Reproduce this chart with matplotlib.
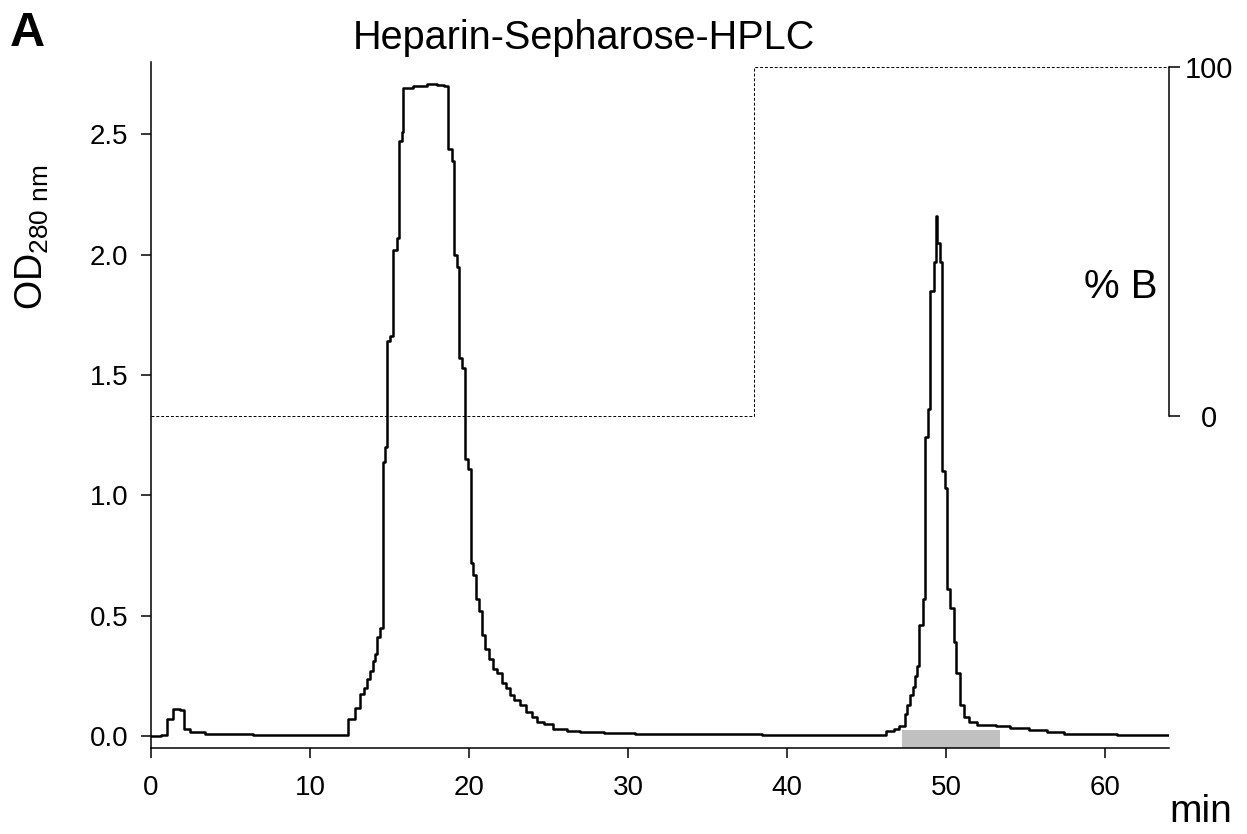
import matplotlib
matplotlib.use("Agg")
import matplotlib.pyplot as plt

plt.rcParams['font.family'] = ['Liberation Sans', 'DejaVu Sans']
plt.rcParams['mathtext.default'] = 'regular'

# chromatogram, step values (OD 280 nm held from each time point on)
time_min = [0.0, 0.6, 1.03, 1.36, 1.8, 2.10, 2.44, 3.4, 6.4, 9.0,
            12.41, 12.83, 13.14, 13.40, 13.56, 13.77, 13.94, 14.10, 14.23, 14.40,
            14.57, 14.72, 14.86, 15.03, 15.24, 15.45, 15.60, 15.77, 15.87,
            16.5, 17.34, 18.0, 18.4,
            18.70, 18.91, 19.06, 19.23, 19.39, 19.56, 19.75, 19.96, 20.10, 20.27,
            20.44, 20.65, 20.80, 21.01, 21.22, 21.49, 21.78, 22.06, 22.33, 22.58,
            22.83, 23.21, 23.58, 23.94, 24.26, 24.68, 25.30, 26.14, 26.98, 28.5,
            30.4, 34.6, 38.4, 45.5, 46.2, 46.7, 47.0,
            47.40, 47.55, 47.72, 47.89, 48.04, 48.18, 48.31, 48.52, 48.67, 48.82,
            48.99, 49.20, 49.33, 49.41, 49.58, 49.73, 49.90, 50.05, 50.26, 50.47,
            50.64, 50.85, 51.10, 51.42, 51.95, 53.1, 54.0, 55.2, 56.3, 57.4,
            60.7, 64.0]
od_280 = [0.000, 0.003, 0.072, 0.110, 0.108, 0.027, 0.015, 0.007, 0.005, 0.004,
          0.07, 0.115, 0.176, 0.20, 0.235, 0.27, 0.31, 0.34, 0.41, 0.45,
          1.14, 1.20, 1.64, 1.66, 2.02, 2.07, 2.47, 2.51, 2.69,
          2.70, 2.71, 2.705, 2.70,
          2.44, 2.39, 2.00, 1.95, 1.57, 1.53, 1.15, 1.11, 0.72, 0.67,
          0.57, 0.52, 0.42, 0.36, 0.32, 0.28, 0.26, 0.22, 0.20, 0.17,
          0.15, 0.13, 0.10, 0.08, 0.06, 0.05, 0.03, 0.02, 0.015, 0.012,
          0.010, 0.008, 0.002, 0.003, 0.02, 0.03, 0.04,
          0.09, 0.127, 0.17, 0.205, 0.25, 0.29, 0.46, 0.57, 1.24, 1.36,
          1.85, 1.97, 2.16, 2.05, 1.97, 1.10, 1.03, 0.61, 0.53, 0.39,
          0.26, 0.127, 0.08, 0.06, 0.045, 0.04, 0.035, 0.025, 0.015, 0.008,
          0.003, 0.003]

# gradient (% buffer B)
grad_time = [0.0, 37.9, 64.0]
grad_b = [0, 100, 100]

# pooled fractions
pool_start, pool_end = 47.2, 53.4
pool_top = 0.025

fig = plt.figure(figsize=(12.47, 8.34), dpi=100)
ax = fig.add_axes([151/1247, 86/834, 1018/1247, 686/834])

ax.fill_between([pool_start, pool_end], -0.05, pool_top, color='#c0c0c0', lw=0, zorder=1)
ax.plot(time_min, od_280, drawstyle='steps-post', color='black', lw=1.8, zorder=3)

ax.set_xlim(0, 64)
ax.set_ylim(-0.05, 2.80)
ax.set_xticks([0, 10, 20, 30, 40, 50, 60])
ax.set_yticks([0.0, 0.5, 1.0, 1.5, 2.0, 2.5])
ax.set_yticklabels(['0.0', '0.5', '1.0', '1.5', '2.0', '2.5'])
ax.spines['top'].set_visible(False)
ax.spines['right'].set_visible(False)
for s in ['left', 'bottom']:
    ax.spines[s].set_linewidth(1.1)
ax.tick_params(axis='both', direction='out', length=7.2, width=1.1, labelsize=20)
ax.tick_params(axis='x', pad=12)
ax.tick_params(axis='y', pad=9)

ax2 = ax.twinx()
ax2.plot(grad_time, grad_b, drawstyle='steps-post', color='black', lw=0.7,
         linestyle=(0, (3, 2)), zorder=2)
ax2.set_ylim(-95.1, 101.3)
ax2.set_yticks([0, 100])
ax2.set_yticklabels(['0', '100'])
for s in ['top', 'left', 'bottom']:
    ax2.spines[s].set_visible(False)
ax2.spines['right'].set_bounds(0, 100)
ax2.spines['right'].set_linewidth(1.1)
ax2.tick_params(axis='y', direction='out', length=8, width=1.1, labelsize=21, pad=21)
for lab in ax2.get_yticklabels():
    lab.set_horizontalalignment('center')

fig.text(10/1247, 1 - 46/834, 'A', ha='left', va='baseline', fontsize=35, fontweight='bold')
fig.text(584/1247, 1 - 49/834, 'Heparin-Sepharose-HPLC', ha='center', va='baseline', fontsize=28.5)
fig.text(1157/1247, 1 - 298/834, '% B', ha='right', va='baseline', fontsize=29)
fig.text(1232/1247, 1 - 822/834, 'min', ha='right', va='baseline', fontsize=28)
fig.text(32/1247, 1 - 237/834, 'OD$_{280\\ nm}$', rotation=90, ha='center', va='center', fontsize=27)

fig.savefig('out.png', dpi=100)
